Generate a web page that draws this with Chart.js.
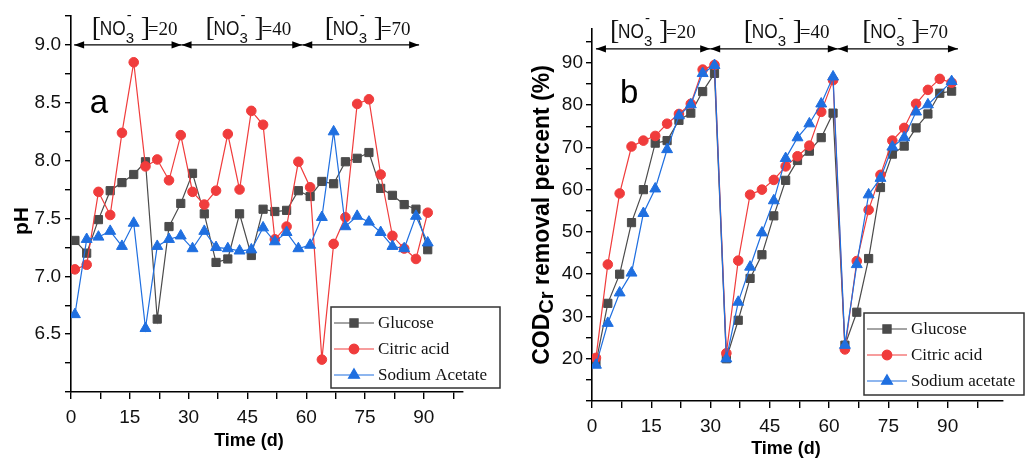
<!DOCTYPE html>
<html><head><meta charset="utf-8">
<script src="https://cdn.jsdelivr.net/npm/chart.js@4.4.1/dist/chart.umd.min.js"></script>
<style>
html,body{margin:0;padding:0;background:#fff;}
#wrap{position:relative;width:1026px;height:459px;overflow:hidden;background:#fff;}
#cA{position:absolute;left:0;top:0;}
#cB{position:absolute;left:515px;top:0;}
</style></head><body>
<div id="wrap"><canvas id="cA" width="515" height="459"></canvas><canvas id="cB" width="511" height="459"></canvas></div>
<script>
// ---------- data ----------
const days = [1,4,7,10,13,16,19,22,25,28,31,34,37,40,43,46,49,52,55,58,61,64,67,70,73,76,79,82,85,88,91];
const phGlucose = [7.31,7.20,7.49,7.74,7.81,7.88,7.99,6.63,7.43,7.63,7.89,7.54,7.12,7.15,7.54,7.18,7.58,7.56,7.57,7.74,7.69,7.82,7.80,7.99,8.02,8.07,7.76,7.70,7.62,7.58,7.23];
const phCitric  = [7.06,7.10,7.73,7.53,8.24,8.85,7.95,8.01,7.83,8.22,7.73,7.62,7.74,8.23,7.75,8.43,8.31,7.32,7.43,7.99,7.77,6.28,7.28,7.51,8.49,8.53,7.88,7.35,7.24,7.15,7.55];
const phAcetate = [6.67,7.32,7.34,7.39,7.26,7.46,6.55,7.26,7.32,7.35,7.24,7.39,7.25,7.24,7.22,7.23,7.42,7.30,7.38,7.24,7.27,7.51,8.25,7.43,7.52,7.47,7.38,7.26,7.24,7.52,7.29];
const codGlucose = [19.0,33.1,40.0,52.2,60.0,71.0,71.6,76.4,78.1,83.2,87.5,20.0,29.1,39.0,44.6,53.8,62.2,66.9,69.1,72.3,78.1,23.2,31.0,43.7,60.5,68.4,70.3,74.6,77.9,82.8,83.3];
const codCitric  = [20.2,42.3,59.1,70.2,71.6,72.7,75.6,77.9,80.3,88.4,89.5,21.3,43.2,58.8,60.0,62.3,65.5,67.9,70.4,78.4,85.9,22.2,43.1,55.2,63.5,71.6,74.6,80.3,83.6,86.2,85.3];
const codAcetate = [18.5,28.4,35.6,40.3,54.4,60.2,69.5,77.5,80.1,87.5,89.4,20.0,33.4,41.7,49.8,57.4,67.4,72.3,75.6,80.3,86.7,23.2,42.3,58.8,62.7,70.1,72.3,78.4,80.1,null,85.6];
const namesA = ['Glucose','Citric acid','Sodium Acetate'];
const namesB = ['Glucose','Citric acid','Sodium acetate'];
const xTickLabels = [0,15,30,45,60,75,90];
const phTickLabels = [6.5,7.0,7.5,8.0,8.5,9.0];
const codTickLabels = [20,30,40,50,60,70,80,90];
const nitrateLevels = ['20','40','70'];
const phasesA = [0.8,28.2,59,88.8];
const phaseLabelDaysA = [15.9,44.9,75.3];
const phasesB = [1,29.9,62.2,92.6];
const phaseLabelDaysB = [15.05,48.9,78.9];

// ---------- styles ----------
const COLORS = ['#4b4b4b','#f03c3c','#1f6fe0'];
const STYLES = ['rect','circle','triangle'];
const RADII = [5.8,4.8,6.3];
const SANS = "'Liberation Sans', Arial, sans-serif";
const SERIF = "'Liberation Serif', 'Times New Roman', serif";

function ds(label, data, i) {
  return {
    label, data: days.map((d,k)=>({x:d, y:data[k]})),
    borderColor: COLORS[i], backgroundColor: COLORS[i],
    pointBackgroundColor: COLORS[i], pointBorderColor: COLORS[i],
    pointStyle: STYLES[i], pointRadius: RADII[i], pointHoverRadius: RADII[i],
    pointBorderWidth: 1, borderWidth: 1.2, order: 3-i, spanGaps: true, tension: 0
  };
}

function arrow(ctx, x1, x2, y) {
  const L = 10, H = 3.6;
  ctx.beginPath(); ctx.moveTo(x1, y); ctx.lineTo(x2, y); ctx.stroke();
  ctx.beginPath(); ctx.moveTo(x1, y); ctx.lineTo(x1+L, y-H); ctx.lineTo(x1+L, y+H); ctx.closePath(); ctx.fill();
  ctx.beginPath(); ctx.moveTo(x2, y); ctx.lineTo(x2-L, y-H); ctx.lineTo(x2-L, y+H); ctx.closePath(); ctx.fill();
}

function no3(ctx, cx, by, val) {
  const x0 = cx - 41.5;
  ctx.fillStyle = '#111';
  ctx.textBaseline = 'alphabetic'; ctx.textAlign = 'left';
  ctx.font = '28px ' + SERIF; ctx.fillText('[', x0, by + 1);
  ctx.save(); ctx.translate(x0 + 8, by); ctx.scale(0.82, 1);
  ctx.font = '21px ' + SANS; ctx.fillText('NO', 0, 0); ctx.restore();
  ctx.font = '15px ' + SANS; ctx.fillText('3', x0 + 34, by + 8);
  ctx.fillText('-', x0 + 35, by - 15);
  ctx.font = '28px ' + SERIF; ctx.fillText(']', x0 + 49, by + 1);
  ctx.font = '19px ' + SERIF; ctx.fillText('=' + val, x0 + 56, by);
}

const decor = {
  id: 'decor',
  afterDraw(chart, args, o) {
    const ctx = chart.ctx, xs = chart.scales.x, ys = chart.scales.y;
    ctx.save();
    // phase arrows
    const ay = ys.getPixelForValue(o.arrowValue);
    ctx.lineWidth = 1.4;
    for (let i = 0; i < o.phases.length - 1; i++) {
      ctx.strokeStyle = '#000'; ctx.fillStyle = '#000';
      arrow(ctx, xs.getPixelForValue(o.phases[i]), xs.getPixelForValue(o.phases[i+1]), ay);
      no3(ctx, xs.getPixelForValue(o.labelDays[i]), ay - o.labelGap, nitrateLevels[i]);
    }
    // panel letter
    ctx.fillStyle = '#000'; ctx.font = '33px ' + SANS; ctx.textAlign = 'left'; ctx.textBaseline = 'alphabetic';
    ctx.fillText(o.letter.t, xs.getPixelForValue(o.letter.x), ys.getPixelForValue(o.letter.y));
    // x title
    ctx.font = 'bold 18px ' + SANS; ctx.textAlign = 'center'; ctx.textBaseline = 'middle';
    ctx.fillText('Time (d)', o.xTitle[0], o.xTitle[1]);
    // y title (rotated)
    ctx.save(); ctx.translate(o.yTitle[0], o.yTitle[1]); ctx.rotate(-Math.PI/2);
    const parts = o.yParts;
    let total = 0;
    parts.forEach(p => { ctx.font = 'bold ' + p.s + 'px ' + SANS; p.w = ctx.measureText(p.t).width; total += p.w; });
    let px = -total/2;
    ctx.textAlign = 'left'; ctx.textBaseline = 'middle';
    parts.forEach(p => { ctx.font = 'bold ' + p.s + 'px ' + SANS; ctx.fillText(p.t, px, p.dy || 0); px += p.w; });
    ctx.restore();
    // legend
    const L = o.legend;
    ctx.strokeStyle = '#333'; ctx.lineWidth = 1.5;
    ctx.strokeRect(L.x, L.y, L.w, L.h);
    chart.data.datasets.forEach((d, i) => {
      const ry = L.y + 16 + 26*i;
      ctx.strokeStyle = d.borderColor; ctx.lineWidth = 1.2;
      ctx.beginPath(); ctx.moveTo(L.x + 3, ry); ctx.lineTo(L.x + 43, ry); ctx.stroke();
      ctx.fillStyle = d.pointBackgroundColor; ctx.strokeStyle = d.pointBorderColor;
      Chart.helpers.drawPoint(ctx, {pointStyle: d.pointStyle, radius: d.pointRadius, borderWidth: 1, rotation: 0}, L.x + 23, ry);
      ctx.fillStyle = '#111'; ctx.font = '17px ' + SERIF; ctx.textAlign = 'left'; ctx.textBaseline = 'middle';
      ctx.fillText(d.label, L.x + 47, ry + 1);
    });
    ctx.restore();
  }
};

function xScale(max, h) {
  return {
    type: 'linear', min: 0, max: max,
    afterFit: s => { s.height = h; },
    ticks: { stepSize: 7.5, includeBounds: false, autoSkip: false, maxRotation: 0, padding: 7,
      color: '#111', font: {family: SANS, size: 19},
      callback: v => xTickLabels.includes(v) ? String(v) : '' },
    grid: { display: true, drawOnChartArea: false, drawTicks: true, tickLength: 7, color: '#000', lineWidth: 1.4 },
    border: { display: true, color: '#000', width: 1.6 }
  };
}

const common = {
  responsive: false, animation: false, devicePixelRatio: 1,
  events: [],
};

new Chart(document.getElementById('cA'), {
  type: 'line',
  data: { datasets: [ds(namesA[0], phGlucose, 0), ds(namesA[1], phCitric, 1), ds(namesA[2], phAcetate, 2)] },
  options: Object.assign({}, common, {
    layout: { padding: { left: 0, top: 16, right: 52, bottom: 0 } },
    scales: {
      x: xScale(100, 67),
      y: {
        type: 'linear', min: 6.0, max: 9.25,
        afterFit: s => { s.width = 71; },
        ticks: { stepSize: 0.25, includeBounds: false, autoSkip: false, padding: 4,
          color: '#111', font: {family: SANS, size: 19},
          callback: v => phTickLabels.some(t => Math.abs(t - v) < 1e-6) ? v.toFixed(1) : '' },
        grid: { display: true, drawOnChartArea: false, drawTicks: true, tickLength: 6, color: '#000', lineWidth: 1.4 },
        border: { display: true, color: '#000', width: 1.6 }
      }
    },
    plugins: {
      legend: { display: false }, tooltip: { enabled: false },
      decor: {
        arrowValue: 9.0, labelGap: 10, phases: phasesA, labelDays: phaseLabelDaysA,
        letter: { t: 'a', x: 4.8, y: 8.41 },
        xTitle: [249, 441], yTitle: [22, 221],
        yParts: [{t: 'pH', s: 21}],
        legend: { x: 331, y: 307, w: 169, h: 81 }
      }
    }
  }),
  plugins: [decor]
});

new Chart(document.getElementById('cB'), {
  type: 'line',
  data: { datasets: [ds(namesB[0], codGlucose, 0), ds(namesB[1], codCitric, 1), ds(namesB[2], codAcetate, 2)] },
  options: Object.assign({}, common, {
    layout: { padding: { left: 0, top: 29, right: 23, bottom: 0 } },
    scales: {
      x: xScale(104, 58),
      y: {
        type: 'linear', min: 10, max: 98,
        afterFit: s => { s.width = 77; },
        ticks: { stepSize: 5, includeBounds: false, autoSkip: false, padding: 3,
          color: '#111', font: {family: SANS, size: 19},
          callback: v => codTickLabels.includes(v) ? String(v) : '' },
        grid: { display: true, drawOnChartArea: false, drawTicks: true, tickLength: 6, color: '#000', lineWidth: 1.4 },
        border: { display: true, color: '#000', width: 1.6 }
      }
    },
    plugins: {
      legend: { display: false }, tooltip: { enabled: false },
      decor: {
        arrowValue: 93.3, labelGap: 11, phases: phasesB, labelDays: phaseLabelDaysB,
        letter: { t: 'b', x: 7.1, y: 80.4 },
        xTitle: [271, 449], yTitle: [28, 215],
        yParts: [{t: 'COD', s: 23}, {t: 'Cr', s: 20, dy: 4}, {t: ' removal percent (%)', s: 23}],
        legend: { x: 349, y: 313, w: 160, h: 82 }
      }
    }
  }),
  plugins: [decor]
});
</script>
</body></html>
